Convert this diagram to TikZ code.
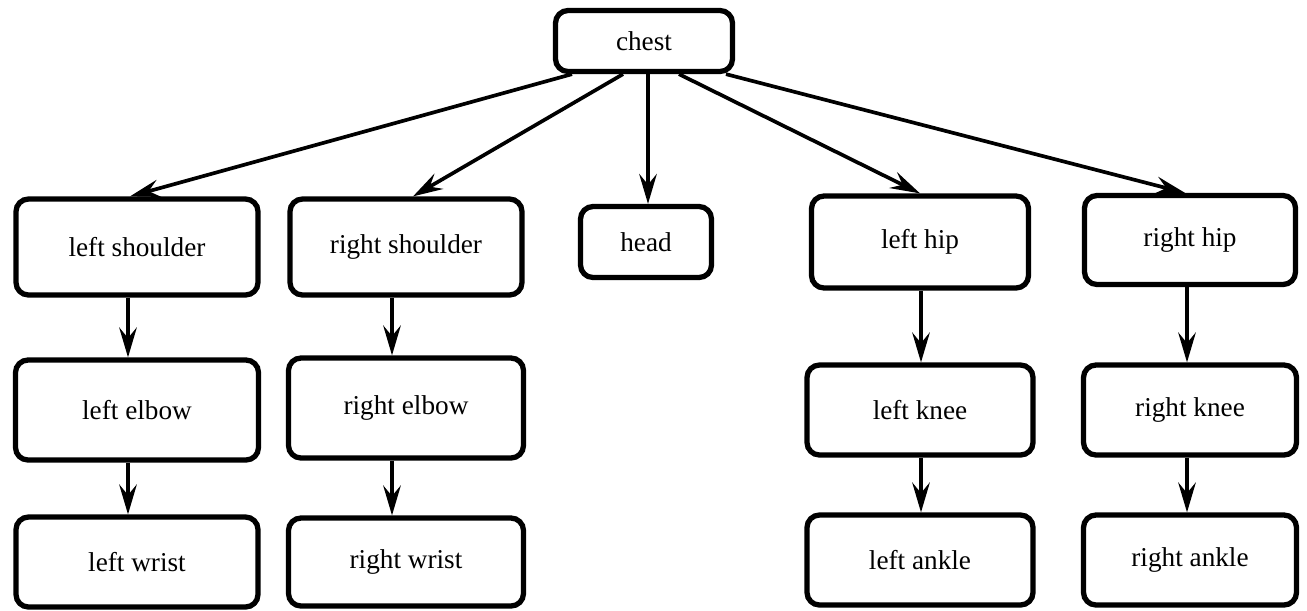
\documentclass[tikz,border=0pt]{standalone}
\usepackage{fontspec}
\setmainfont{Liberation Serif}
\usetikzlibrary{arrows.meta,calc}

\tikzset{
  joint/.style={draw, line width=3pt, rounded corners=0.25cm, inner sep=0pt,
    font=\fontsize{15.5}{18}\selectfont},
  link/.style={line width=2.1pt, -{Stealth[length=17pt,width=10pt,inset=6pt]}}
}

\begin{document}
\begin{tikzpicture}[x=0.02cm, y=-0.02cm]
  \useasboundingbox (0,0) rectangle (1307,610);
  % segments: name/centre x/centre y/width/height/label
  \foreach \nm/\cx/\cy/\w/\h/\txt in {
      chest/644/41/177/61/chest,
      lsh/137/247/242/96/{left shoulder},
      rsh/406/247/232/96/{right shoulder},
      head/646/242/131/71/head,
      lhip/920/242/217/92/{left hip},
      rhip/1190/240/211/89/{right hip},
      lelb/137/410/243/100/{left elbow},
      relb/406/408/235/100/{right elbow},
      lknee/920/410/226/90/{left knee},
      rknee/1190/410/213/90/{right knee},
      lwr/137/562/242/90/{left wrist},
      rwr/406/562/235/88/{right wrist},
      lank/920/560/226/90/{left ankle},
      rank/1190/560/213/90/{right ankle}}
    \node[joint, minimum width=\w*0.02cm, minimum height=\h*0.02cm] (\nm) at (\cx,\cy) {\txt};
  % chest to the limbs
  \foreach \b/\sx/\ex in {lsh/-72/-7, rsh/-21/7, head/4/2, lhip/35/0, rhip/82/-5}
    \draw[link] ($(chest.south)+(\sx,0)$) -- ($(\b.north)+(\ex,0)$);
  % down the limbs
  \foreach \a/\b/\dx in {lsh/lelb/-9, lelb/lwr/-9, rsh/relb/-14, relb/rwr/-14,
      lhip/lknee/1, lknee/lank/1, rhip/rknee/-3, rknee/rank/-3}
    \draw[link] ($(\a.south)+(\dx,0)$) -- ($(\b.north)+(\dx,0)$);
\end{tikzpicture}
\end{document}
